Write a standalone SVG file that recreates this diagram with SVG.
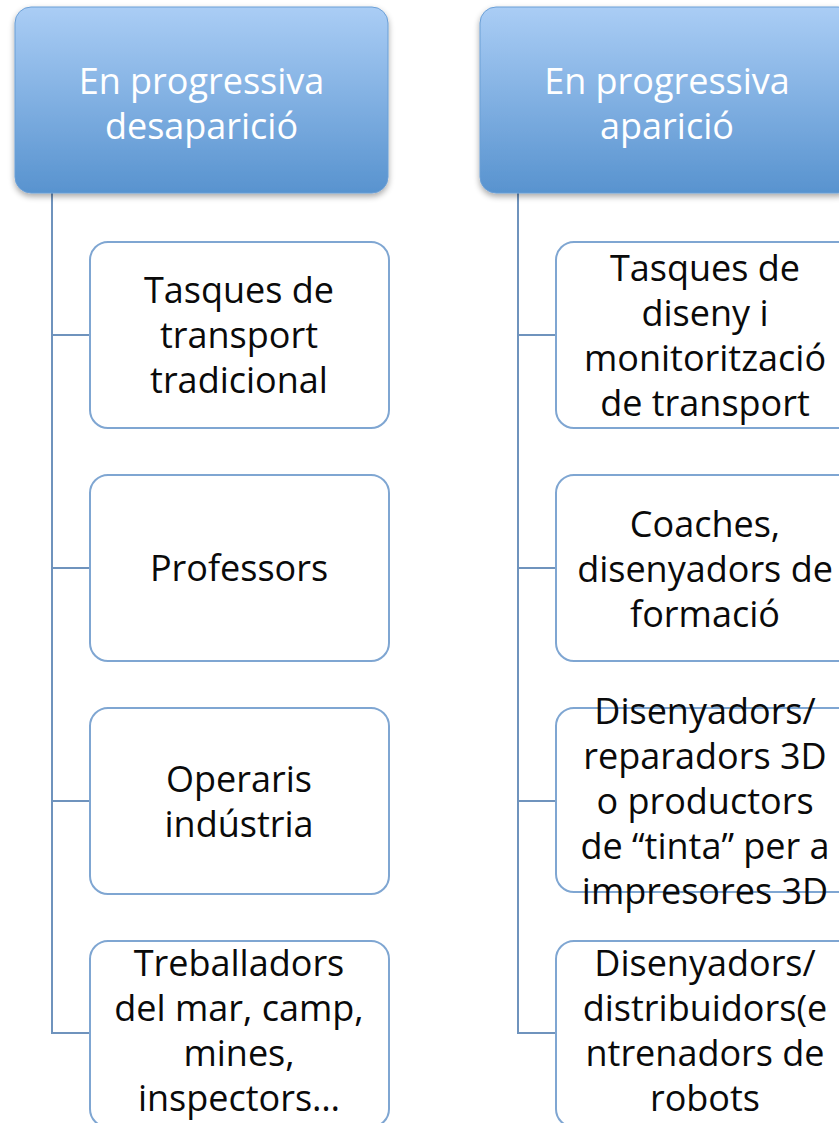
<svg xmlns="http://www.w3.org/2000/svg" width="839" height="1123" viewBox="0 0 839 1123">
<defs>
<linearGradient id="hg" x1="0" y1="0" x2="0" y2="1">
<stop offset="0" stop-color="#aacdf5"/>
<stop offset="1" stop-color="#5893cf"/>
</linearGradient>
<filter id="sh" x="-10%" y="-10%" width="120%" height="130%">
<feGaussianBlur in="SourceAlpha" stdDeviation="3"/>
<feOffset dy="3"/>
<feComponentTransfer><feFuncA type="linear" slope="0.35"/></feComponentTransfer>
<feMerge><feMergeNode/><feMergeNode in="SourceGraphic"/></feMerge>
</filter>
</defs>
<style>
.hdr{fill:url(#hg);stroke:#6b9fd6;stroke-width:1;filter:url(#sh)}
.box{fill:#ffffff;stroke:#7fa6d2;stroke-width:2}
.conn{fill:none;stroke:#6f93bd;stroke-width:2}
.ht{font-family:"Open Sans","Liberation Sans",sans-serif;font-size:36px;fill:#ffffff;text-anchor:middle}
.bt{font-family:"Open Sans","Liberation Sans",sans-serif;font-size:36px;fill:#0a0a0a;text-anchor:middle}
</style>
<rect width="839" height="1123" fill="#ffffff"/>
<g id="connectors">
<path class="conn" d="M52 193 V1033 H90 M52 335 H90 M52 568 H90 M52 801 H90"/>
<path class="conn" d="M518 193 V1033 H556 M518 335 H556 M518 568 H556 M518 801 H556"/>
</g>
<g id="hdr-left">
<rect class="hdr" x="15" y="7" width="373" height="186" rx="16"/>
<text class="ht" x="201.5" y="94">En progressiva</text>
<text class="ht" x="201.5" y="139">desaparició</text>
</g>
<g id="hdr-right">
<rect class="hdr" x="480" y="7" width="374" height="186" rx="16"/>
<text class="ht" x="667" y="94">En progressiva</text>
<text class="ht" x="667" y="139">aparició</text>
</g>
<g id="l1">
<rect class="box" x="90" y="242" width="299" height="186" rx="18"/>
<text class="bt" x="239" y="303">Tasques de</text>
<text class="bt" x="239" y="348">transport</text>
<text class="bt" x="239" y="393">tradicional</text>
</g>
<g id="l2">
<rect class="box" x="90" y="475" width="299" height="186" rx="18"/>
<text class="bt" x="239" y="581">Professors</text>
</g>
<g id="l3">
<rect class="box" x="90" y="708" width="299" height="186" rx="18"/>
<text class="bt" x="239" y="792">Operaris</text>
<text class="bt" x="239" y="837">indústria</text>
</g>
<g id="l4">
<rect class="box" x="90" y="941" width="299" height="186" rx="18"/>
<text class="bt" x="239" y="976">Treballadors</text>
<text class="bt" x="239" y="1021">del mar, camp,</text>
<text class="bt" x="239" y="1066">mines,</text>
<text class="bt" x="239" y="1111">inspectors…</text>
</g>
<g id="r1">
<rect class="box" x="556" y="242" width="299" height="186" rx="18"/>
<text class="bt" x="705" y="281">Tasques de</text>
<text class="bt" x="705" y="326">diseny i</text>
<text class="bt" x="705" y="371">monitorització</text>
<text class="bt" x="705" y="416">de transport</text>
</g>
<g id="r2">
<rect class="box" x="556" y="475" width="299" height="186" rx="18"/>
<text class="bt" x="705" y="537">Coaches,</text>
<text class="bt" x="705" y="582">disenyadors de</text>
<text class="bt" x="705" y="627">formació</text>
</g>
<g id="r3">
<rect class="box" x="556" y="708" width="299" height="184" rx="18"/>
<text class="bt" x="705" y="724">Disenyadors/</text>
<text class="bt" x="705" y="769">reparadors 3D</text>
<text class="bt" x="705" y="814">o productors</text>
<text class="bt" x="705" y="859">de “tinta” per a</text>
<text class="bt" x="705" y="904">impresores 3D</text>
</g>
<g id="r4">
<rect class="box" x="556" y="941" width="299" height="186" rx="18"/>
<text class="bt" x="705" y="976">Disenyadors/</text>
<text class="bt" x="705" y="1021">distribuidors(e</text>
<text class="bt" x="705" y="1066">ntrenadors de</text>
<text class="bt" x="705" y="1111">robots</text>
</g>
</svg>
